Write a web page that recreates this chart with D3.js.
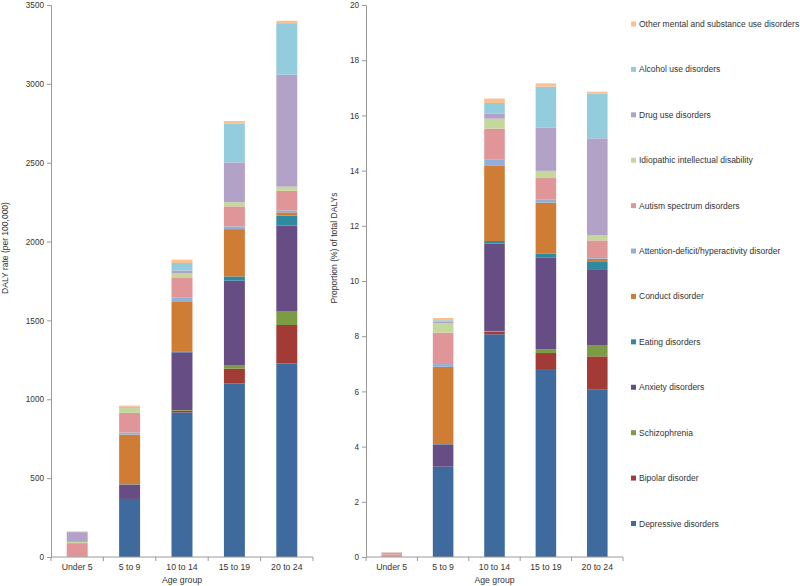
<!DOCTYPE html>
<html><head><meta charset="utf-8">
<script src="https://cdn.jsdelivr.net/npm/d3@7"></script>
<style>body{margin:0;background:#fff;}svg{display:block;font-family:"Liberation Sans",Arial,sans-serif;}</style>
</head><body><svg id="c" width="800" height="586"></svg>
<script>
const ageGroups = ["Under 5","5 to 9","10 to 14","15 to 19","20 to 24"];
const disorders = ["Depressive disorders","Bipolar disorder","Schizophrenia","Anxiety disorders","Eating disorders","Conduct disorder","Attention-deficit/hyperactivity disorder","Autism spectrum disorders","Idiopathic intellectual disability","Drug use disorders","Alcohol use disorders","Other mental and substance use disorders"];
const colors = ["#3e6a9e","#a23b35","#7b9c45","#664e84","#2f89a1","#cf7c35","#92b0d7","#e09598","#c5d89c","#b3a2c7","#93cddd","#fac090"];
// DALY rate per 100,000, one array per disorder, by age group
const rateDepressive = [0,368,917,1101,1228];
const rateBipolar    = [0,0,12,93,243];
const rateSchizo     = [0,0,3,23,85];
const rateAnxiety    = [0,91,366,535,546];
const rateEating     = [0,2,6,27,62];
const rateConduct    = [2,315,313,300,21];
const rateADHD       = [0,13,27,17,13];
const rateAutism     = [86,125,129,127,124];
const rateIdiopathic = [8,30,27,27,26];
const rateDrug       = [62,5,17,252,710];
const rateAlcohol    = [0,3,47,245,327];
const rateOther      = [4,8,21,17,15];
// Proportion (%) of total DALYs
const pctDepressive = [0,3.27,8.07,6.81,6.06];
const pctBipolar    = [0,0,0.10,0.58,1.21];
const pctSchizo     = [0,0,0.02,0.14,0.41];
const pctAnxiety    = [0,0.81,3.17,3.31,2.72];
const pctEating     = [0,0.01,0.09,0.16,0.29];
const pctConduct    = [0.01,2.80,2.72,1.84,0.12];
const pctADHD       = [0,0.10,0.24,0.12,0.06];
const pctAutism     = [0.09,1.14,1.11,0.77,0.60];
const pctIdiopathic = [0.01,0.35,0.36,0.26,0.18];
const pctDrug       = [0.05,0.06,0.19,1.56,3.52];
const pctAlcohol    = [0,0.04,0.38,1.49,1.62];
const pctOther      = [0.01,0.08,0.16,0.12,0.07];
const rateTicks = [0,500,1000,1500,2000,2500,3000,3500];
const pctTicks = [0,2,4,6,8,10,12,14,16,18,20];

const rateSeries = [rateDepressive,rateBipolar,rateSchizo,rateAnxiety,rateEating,rateConduct,rateADHD,rateAutism,rateIdiopathic,rateDrug,rateAlcohol,rateOther];
const pctSeries = [pctDepressive,pctBipolar,pctSchizo,pctAnxiety,pctEating,pctConduct,pctADHD,pctAutism,pctIdiopathic,pctDrug,pctAlcohol,pctOther];

const svg = d3.select("#c");
const plotTop = 5, plotBottom = 557;

function panel(x0, x1, series, maxV, ticks, yTitle, titleX) {
  const rows = ageGroups.map((g,i)=>{const r={group:g}; disorders.forEach((d,k)=>r[d]=series[k][i]); return r;});
  const stack = d3.stack().keys(disorders)(rows);
  const x = d3.scaleBand().domain(ageGroups).range([x0,x1]).paddingInner(0.6).paddingOuter(0.3);
  const y = d3.scaleLinear().domain([0,maxV]).range([plotBottom,plotTop]);
  const g = svg.append("g");
  g.selectAll("g.s").data(stack).join("g").attr("fill",(d,i)=>colors[i])
    .selectAll("rect").data(d=>d).join("rect")
    .attr("x",d=>x(d.data.group)).attr("width",x.bandwidth())
    .attr("y",d=>y(d[1])).attr("height",d=>Math.max(0,y(d[0])-y(d[1])));
  const ya = g.append("g").attr("transform",`translate(${x0},0)`)
    .call(d3.axisLeft(y).tickValues(ticks).tickSize(4).tickPadding(3).tickFormat(d3.format("d")));
  ya.select(".domain").attr("stroke","#9a9a9a");
  ya.selectAll(".tick line").attr("stroke","#9a9a9a");
  ya.selectAll("text").attr("font-size","8.2px").attr("fill","#333").attr("font-family","Liberation Sans, Arial, sans-serif");
  const xa = g.append("g").attr("transform",`translate(0,${plotBottom})`);
  xa.append("line").attr("x1",x0).attr("x2",x1).attr("stroke","#9a9a9a");
  const bounds = d3.range(ageGroups.length+1).map(i=>x0 + i*(x1-x0)/ageGroups.length);
  xa.selectAll("line.t").data(bounds).join("line").attr("class","t")
    .attr("x1",d=>d).attr("x2",d=>d).attr("y1",0).attr("y2",4).attr("stroke","#9a9a9a");
  xa.selectAll("text").data(ageGroups).join("text")
    .attr("x",d=>x(d)+x.bandwidth()/2).attr("y",13).attr("text-anchor","middle")
    .attr("font-size","8.7px").attr("fill","#333").text(d=>d);
  g.append("text").attr("x",(x0+x1)/2).attr("y",583).attr("text-anchor","middle")
    .attr("font-size","8.7px").attr("fill","#333").text("Age group");
  g.append("text").attr("transform",`translate(${titleX},248) rotate(-90)`).attr("text-anchor","middle")
    .attr("font-size","8.5px").attr("fill","#333").text(yTitle);
}
panel(51, 313, rateSeries, 3500, rateTicks, "DALY rate (per 100,000)", 8);
panel(366, 623, pctSeries, 20, pctTicks, "Proportion (%) of total DALYs", 337);

const legendY = d3.scalePoint().domain(disorders.slice().reverse()).range([24,523.5]);
const lg = svg.append("g");
disorders.forEach((d,i)=>{
  const yy = legendY(d);
  lg.append("rect").attr("x",631).attr("y",yy-2.5).attr("width",5).attr("height",5).attr("fill",colors[i]);
  lg.append("text").attr("x",639).attr("y",yy+3).attr("font-size","8.5px").attr("fill","#333").text(d);
});
</script></body></html>
